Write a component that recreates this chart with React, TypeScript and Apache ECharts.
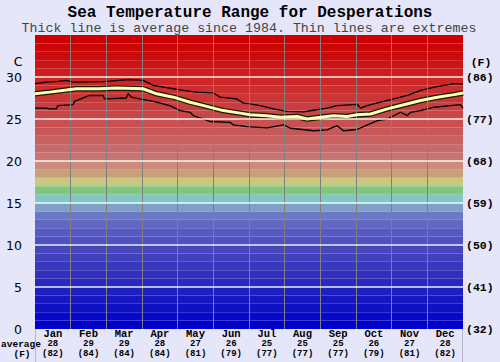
import React, { useEffect, useRef } from 'react';
import * as echarts from 'echarts';

const months = ['Jan', 'Feb', 'Mar', 'Apr', 'May', 'Jun', 'Jul', 'Aug', 'Sep', 'Oct', 'Nov', 'Dec'];
const avgC = [28, 29, 29, 28, 27, 26, 25, 25, 25, 26, 27, 28];
const avgF = [82, 84, 84, 84, 81, 79, 77, 77, 77, 79, 81, 82];

// x in months (0 = 1 Jan, 12 = 31 Dec), y in °C
const maxLine: [number, number][] = [
  [0, 29.2], [0.32, 29.4], [0.6, 29.45], [0.88, 29.6], [1.06, 29.4], [1.91, 29.45], [2.1, 29.5],
  [2.65, 29.7], [3.03, 29.6], [3.13, 29.4], [3.31, 29.0], [3.6, 28.8], [3.88, 28.6], [4.16, 28.4],
  [4.53, 28.2], [5.0, 28.1], [5.19, 27.6], [5.65, 27.4], [5.84, 26.9], [6.03, 26.8], [6.32, 26.6],
  [6.69, 26.2], [7.06, 25.9], [7.53, 25.85], [7.9, 26.1], [8.19, 26.3], [8.47, 26.6], [9.03, 26.75],
  [9.13, 26.3], [9.31, 26.6], [9.69, 27.0], [10.06, 27.4], [10.44, 27.8], [10.81, 28.4], [11.19, 28.8],
  [11.56, 29.05], [11.75, 29.2], [12, 29.15],
];
const avgLine: [number, number][] = [
  [0, 28.0], [0.41, 28.2], [0.88, 28.45], [1.16, 28.6], [1.81, 28.6], [2.28, 28.7], [3.03, 28.6],
  [3.41, 28.0], [3.88, 27.6], [4.35, 27.0], [4.81, 26.5], [5.28, 26.0], [5.75, 25.7], [6.03, 25.5],
  [6.5, 25.4], [6.88, 25.2], [7.35, 25.3], [7.63, 25.0], [8.0, 25.2], [8.37, 25.4], [8.75, 25.3],
  [9.03, 25.5], [9.41, 25.6], [9.88, 26.2], [10.34, 26.7], [10.81, 27.2], [11.28, 27.6], [11.75, 27.9],
  [12, 28.1],
];
const minLine: [number, number][] = [
  [0, 26.3], [0.32, 26.3], [0.41, 26.2], [0.6, 26.2], [0.64, 26.6], [1.07, 26.7], [1.11, 27.1],
  [1.53, 27.8], [1.91, 27.8], [1.95, 27.4], [2.56, 27.5], [2.61, 28.0], [2.7, 27.6], [2.94, 27.4],
  [3.32, 27.1], [3.78, 26.6], [4.07, 26.0], [4.35, 25.8], [4.44, 25.4], [4.72, 25.0], [4.91, 24.7],
  [5.47, 24.6], [5.56, 24.3], [5.94, 24.1], [6.5, 23.95], [6.97, 24.3], [7.16, 23.9], [7.81, 23.6],
  [8.19, 23.7], [8.47, 24.2], [8.65, 23.6], [9.03, 23.75], [9.32, 24.3], [9.6, 24.8], [9.88, 25.0],
  [10.25, 25.8], [10.44, 25.4], [10.53, 25.8], [10.81, 26.0], [11.19, 26.4], [11.65, 26.6],
  [11.93, 26.7], [12, 26.3],
];

// one colour per 1 °C band, from 0-1 up to 34-35
const bandColors = [
  '#0000cc', '#0808c8', '#1010c4', '#1818c2', '#2020c0', '#2828be', '#3030bc', '#3838bc', '#4040bc', '#4646bc',
  '#5050c0', '#5858c4', '#6068c4', '#6a78c6', '#80a0c8', '#80c8c8', '#80c880', '#c8c880', '#c8a07c', '#cc8a7a',
  '#c87474', '#c86a6a', '#c86262', '#c85858', '#c85050', '#c84646', '#c83e3e', '#ca3636', '#ca2e2e', '#cc2626',
  '#cc1c1c', '#cc1414', '#cc0c0c', '#cc0606', '#cc0000',
];
const yTicks = [5, 10, 15, 20, 25, 30];
const monthBounds = [1, 2, 3, 4, 5, 6, 7, 8, 9, 10, 11];

export default function App() {
  const ref = useRef<HTMLDivElement>(null);
  useEffect(() => {
    const chart = echarts.init(ref.current!, null, { renderer: 'svg' });
    const mono = 'Liberation Mono';
    const option: any = {
      animation: false,
      backgroundColor: '#e6e6fa',
      grid: { left: 35, right: 37, top: 35, bottom: 33 },
      xAxis: [
        {
          type: 'value', min: 0, max: 12, interval: 1,
          axisLine: { show: false }, axisTick: { show: false }, axisLabel: { show: false }, splitLine: { show: false },
        },
        {
          type: 'category', data: months, boundaryGap: true, position: 'bottom',
          axisLine: { show: false }, axisTick: { show: false }, splitLine: { show: false },
          axisLabel: {
            margin: -1,
            interval: 0,
            formatter: (v: string, i: number) => `{m|${v}}\n{v|${avgC[i]}}\n{v|(${avgF[i]})}`,
            rich: {
              m: { fontFamily: mono, fontWeight: 'bold', fontSize: 10.5, lineHeight: 11, color: '#000' },
              v: { fontFamily: mono, fontWeight: 'bold', fontSize: 9, lineHeight: 9.8, color: '#000' },
            },
          },
        },
      ],
      yAxis: [
        {
          type: 'value', min: 0, max: 35, interval: 5, position: 'left',
          axisLine: { show: false }, axisTick: { show: false }, splitLine: { show: false },
          axisLabel: {
            margin: 13, fontFamily: 'DejaVu Sans', fontSize: 12.5, color: '#000',
            formatter: (v: number) => (v >= 35 ? '' : String(v)),
          },
        },
        {
          type: 'value', min: 0, max: 35, interval: 5, position: 'right',
          axisLine: { show: false }, axisTick: { show: false }, splitLine: { show: false },
          axisLabel: {
            margin: 3, fontFamily: mono, fontWeight: 'bold', fontSize: 11.5, color: '#000',
            padding: [4, 0, 0, 0],
            formatter: (v: number) => (v >= 35 ? '' : `(${Math.round(v * 9 / 5 + 32)})`),
          },
        },
      ],
      graphic: [
        {
          type: 'text', x: 250, y: 13,
          style: { text: 'Sea Temperature Range for Desperations', textAlign: 'center', textVerticalAlign: 'middle', fontFamily: mono, fontWeight: 'bold', fontSize: 16, fill: '#000' },
        },
        {
          type: 'text', x: 249, y: 28,
          style: { text: 'Thick line is average since 1984. Thin lines are extremes', textAlign: 'center', textVerticalAlign: 'middle', fontFamily: mono, fontSize: 13.3, fill: '#444' },
        },
        { type: 'text', x: 18, y: 61, style: { text: 'C', textAlign: 'center', textVerticalAlign: 'middle', fontFamily: 'DejaVu Sans', fontSize: 12.5, fill: '#000' } },
        { type: 'text', x: 481, y: 62, style: { text: '(F)', textAlign: 'center', textVerticalAlign: 'middle', fontFamily: mono, fontWeight: 'bold', fontSize: 11.5, fill: '#000' } },
        { type: 'text', x: 21, y: 344, style: { text: 'average', textAlign: 'center', textVerticalAlign: 'middle', fontFamily: mono, fontWeight: 'bold', fontSize: 9.5, fill: '#000' } },
        { type: 'text', x: 22, y: 354, style: { text: '(F)', textAlign: 'center', textVerticalAlign: 'middle', fontFamily: mono, fontWeight: 'bold', fontSize: 9.5, fill: '#000' } },
        { type: 'line', shape: { x1: 35.5, y1: 329, x2: 35.5, y2: 362 }, style: { stroke: '#b8b8c8', lineWidth: 1 } },
        { type: 'line', shape: { x1: 462.5, y1: 329, x2: 462.5, y2: 362 }, style: { stroke: '#b8b8c8', lineWidth: 1 } },
      ],
      series: [
        {
          type: 'line', data: [], z: 1, silent: true,
          markArea: {
            silent: true,
            data: bandColors.map((c, i) => [{ yAxis: i, itemStyle: { color: c } }, { yAxis: i + 1 }]),
          },
        },
        {
          type: 'line', data: [], z: 2, silent: true,
          markLine: {
            silent: true, symbol: 'none', label: { show: false },
            data: [
              ...monthBounds.map((m) => ({ xAxis: m, lineStyle: { color: '#808080', width: 1, type: 'solid' } })),
              ...yTicks.map((t) => ({ yAxis: t, lineStyle: { color: '#ffffff', width: 1.5, type: 'solid', opacity: 0.9 } })),
            ],
          },
        },
        {
          name: 'max', type: 'line', data: maxLine, z: 3, symbol: 'none',
          lineStyle: { color: '#000', width: 1.3 },
        },
        {
          name: 'min', type: 'line', data: minLine, z: 3, symbol: 'none',
          lineStyle: { color: '#000', width: 1.3 },
        },
        {
          name: 'avgOutline', type: 'line', data: avgLine, z: 4, symbol: 'none',
          lineStyle: { color: '#1a1a00', width: 5.5 },
        },
        {
          name: 'avg', type: 'line', data: avgLine, z: 5, symbol: 'none',
          lineStyle: { color: '#ffffb8', width: 3 },
        },
      ],
    };
    chart.setOption(option);
    return () => chart.dispose();
  }, []);
  return <div ref={ref} style={{ position: 'fixed', left: 0, top: 0, width: 500, height: 362 }} />;
}
